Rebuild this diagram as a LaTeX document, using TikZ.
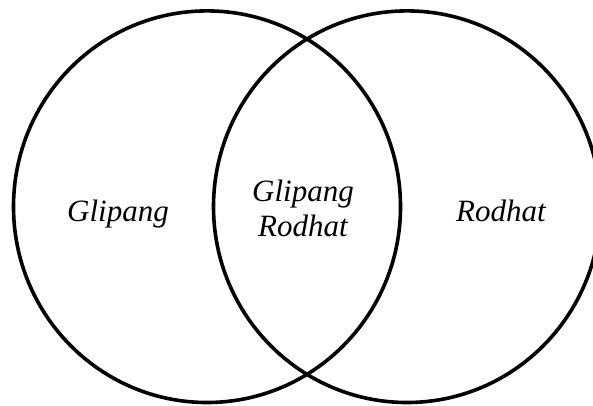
\documentclass[tikz,border=0pt]{standalone}
\usepackage{fontspec}
\setmainfont{Liberation Serif}
\begin{document}
\begin{tikzpicture}[x=1pt,y=1pt,
  setcircle/.style={draw=black,line width=3.6pt},
  lbl/.style={font=\fontsize{31}{35}\selectfont\itshape,align=center,inner sep=0pt}]
\useasboundingbox (0,0) rectangle (593,-405);
\begin{scope}
\clip (0,0) rectangle (593,-405);
\draw[setcircle] (207,-206.7) ellipse [x radius=193.5, y radius=195.8];
\draw[setcircle] (407,-206.7) ellipse [x radius=193.5, y radius=195.8];
\end{scope}
\node[lbl,anchor=base] (a) at (118,-221) {Glipang};
\node[lbl] (ab) at (303,-208) {Glipang\\Rodhat};
\node[lbl,anchor=base] (b) at (501,-221) {Rodhat};
\end{tikzpicture}
\end{document}
